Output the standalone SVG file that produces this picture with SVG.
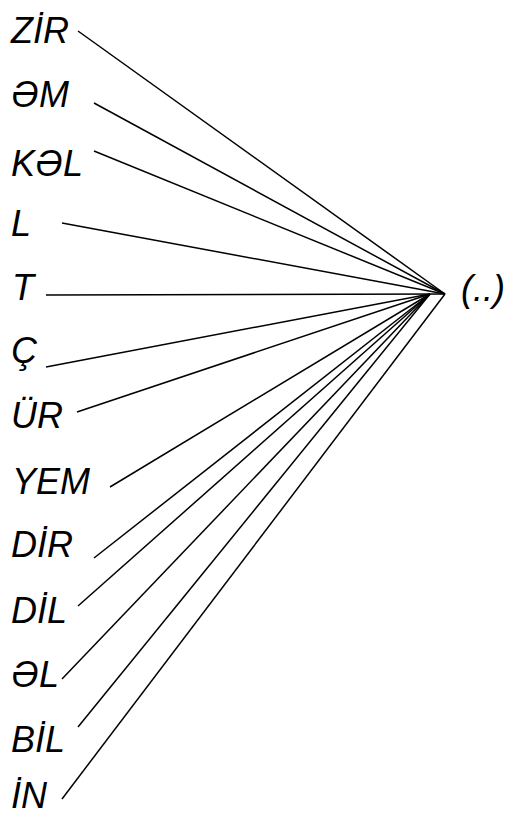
<svg xmlns="http://www.w3.org/2000/svg" width="508" height="817" viewBox="0 0 508 817">
<style>
.t{font-family:"Liberation Sans",Arial,sans-serif;font-style:italic;font-size:36px;fill:#000}
.c line{stroke:#000;stroke-width:1.5;fill:none}
</style>
<rect width="508" height="817" fill="#fff"/>
<g id="connectors" class="c">
<line x1="78" y1="31" x2="445" y2="294"/>
<line x1="94" y1="103" x2="445" y2="294"/>
<line x1="94" y1="151" x2="445" y2="294"/>
<line x1="62" y1="223" x2="445" y2="294"/>
<line x1="46" y1="295" x2="445" y2="294"/>
<line x1="46" y1="367" x2="430" y2="294"/>
<line x1="77" y1="412" x2="430" y2="294"/>
<line x1="110" y1="487" x2="430" y2="294"/>
<line x1="94" y1="558" x2="430" y2="294"/>
<line x1="78" y1="606" x2="430" y2="294"/>
<line x1="62" y1="679" x2="430" y2="294"/>
<line x1="78" y1="727" x2="430" y2="294"/>
<line x1="62" y1="799" x2="445" y2="294"/>
</g>
<g id="root"><text class="t" x="461" y="301">(..)</text></g>
<g id="n1"><text class="t" x="11" y="43">ZİR</text></g>
<g id="n2"><text class="t" x="11" y="107">ƏM</text></g>
<g id="n3"><text class="t" x="11" y="176">KƏL</text></g>
<g id="n4"><text class="t" x="11" y="236">L</text></g>
<g id="n5"><text class="t" x="12" y="300">T</text></g>
<g id="n6"><text class="t" x="11" y="363">Ç</text></g>
<g id="n7"><text class="t" x="11" y="428">ÜR</text></g>
<g id="n8"><text class="t" x="12" y="494">YEM</text></g>
<g id="n9"><text class="t" x="11" y="557">DİR</text></g>
<g id="n10"><text class="t" x="11" y="623">DİL</text></g>
<g id="n11"><text class="t" x="11" y="687">ƏL</text></g>
<g id="n12"><text class="t" x="11" y="752">BİL</text></g>
<g id="n13"><text class="t" x="11" y="808">İN</text></g>
</svg>
